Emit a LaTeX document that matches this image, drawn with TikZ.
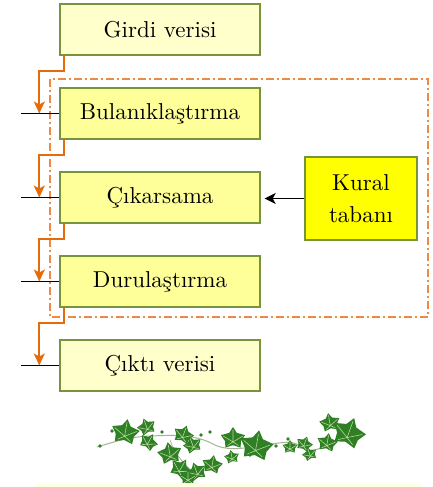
\documentclass[tikz,border=0pt]{standalone}
\usepackage{fontspec}
\newfontfamily\boxfont{lmroman10-regular.otf}
\usetikzlibrary{arrows.meta}
\definecolor{boxline}{HTML}{77933C}
\definecolor{palefill}{HTML}{FFFFCC}
\definecolor{stepfill}{HTML}{FFFF99}
\definecolor{rulefill}{HTML}{FFFF00}
\definecolor{flow}{HTML}{E46C0A}
\definecolor{frameline}{HTML}{EE8A45}
\definecolor{ivy}{HTML}{2F7F24}
\definecolor{ivyvein}{HTML}{B5D69C}
\definecolor{vine}{HTML}{A3B394}
\definecolor{strip}{HTML}{FFFFE2}
\tikzset{
  ivyleaf/.pic={
    \fill[ivy] (90:1) -- (62:0.62) -- (22:1) -- (-8:0.62) -- (-45:0.82) -- (-90:0.4)
      -- (-135:0.82) -- (-172:0.62) -- (158:1) -- (118:0.62) -- cycle;
    \draw[ivyvein, line width=0.6pt] (0,-0.15) -- (90:0.8) (0,-0.15) -- (22:0.8) (0,-0.15) -- (158:0.8)
      (0,-0.15) -- (-45:0.6) (0,-0.15) -- (-135:0.6);
  }
}
\begin{document}
\begin{tikzpicture}[x=1pt, y=-1pt,
  box/.style={draw=boxline, line width=1.4pt, minimum width=200pt, minimum height=51pt,
    inner sep=0pt, font=\boxfont\fontsize{23}{28}\selectfont},
  databox/.style={box, fill=palefill},
  stagebox/.style={box, fill=stepfill},
  rulebox/.style={box, fill=rulefill, minimum width=112pt, minimum height=83pt,
    align=center, font=\boxfont\fontsize{23}{32}\selectfont},
  flowline/.style={draw=flow, line width=1.8pt, -{Stealth[length=12pt, width=11pt, inset=3pt]}},
  tick/.style={draw=black, line width=1.2pt},
  rulearrow/.style={draw=black, line width=1.6pt, -{Stealth[length=11pt, width=11pt, inset=3pt]}, shorten >=4pt},
  frame/.style={draw=frameline, line width=1.1pt, dash pattern=on 8pt off 3pt on 2pt off 3pt},
  vineline/.style={draw=vine, line width=1pt},
]
\useasboundingbox (0,0) rectangle (433,487);

% processing stage frame
\draw[frame] (50,79) rectangle (428,317);

% boxes
\node[databox]  (girdi) at (160,29.5)  {Girdi verisi};
\node[stagebox] (bul)   at (160,113.5) {Bulanıklaştırma};
\node[stagebox] (cik)   at (160,197.5) {Çıkarsama};
\node[stagebox] (dur)   at (160,281.5) {Durulaştırma};
\node[databox]  (cikti) at (160,365.5) {Çıktı verisi};
\node[rulebox]  (kural) at (361,198.5) {Kural\\tabanı};

% side ticks and arrow targets
\foreach \n in {bul,cik,dur,cikti}{
  \coordinate (in-\n)  at ([xshift=-38pt]\n.west);
  \coordinate (tap-\n) at ([xshift=-20pt]\n.west);
  \draw[tick] (in-\n) -- (\n.west);
}

% flow between stages
\draw[flowline] ([xshift=5pt]girdi.south west) -- ++(0,15) -| (tap-bul);
\draw[flowline] ([xshift=5pt]bul.south west)   -- ++(0,15) -| (tap-cik);
\draw[flowline] ([xshift=5pt]cik.south west)   -- ++(0,15) -| (tap-dur);
\draw[flowline] ([xshift=5pt]dur.south west)   -- ++(0,15) -| (tap-cikti);

% rule base feeds inference
\draw[rulearrow] (kural.west) -- (kural.west -| cik.east);

% ivy ornament
\draw[vineline] (97,447) .. controls (120,440) and (130,437) .. (150,436)
  .. controls (175,435) and (195,434) .. (215,445)
  .. controls (230,452) and (250,447) .. (265,445)
  .. controls (285,442) and (295,440) .. (302,448)
  .. controls (312,455) and (330,445) .. (350,433);
\draw[vineline, line width=0.7pt] (170,440) .. controls (175,455) and (185,465) .. (195,474);
\foreach \x/\y/\s/\r in {
  125/434/15/170, 147/428/10/200, 148/443/10/150, 170/455/13/190, 183/436/11/160,
  193/446/10/200, 180/470/12/150, 197/473/11/200, 212/466/11/170, 188/479/9/180,
  233/440/13/180, 256/448/18/170, 232/458/8/190, 290/448/8/180, 304/445/9/160,
  310/455/8/200, 327/444/11/170, 330/424/11/190, 348/435/18/160}
  \pic[rotate=\r, scale=\s] at (\x,\y) {ivyleaf};
\foreach \x/\y in {100/446, 112/431, 162/432, 201/435, 250/455, 276/446, 210/432, 288/439}
  \fill[ivy] (\x,\y) circle (1.8);

% base strip
\fill[strip] (36,483) rectangle (422,487);
\end{tikzpicture}
\end{document}
